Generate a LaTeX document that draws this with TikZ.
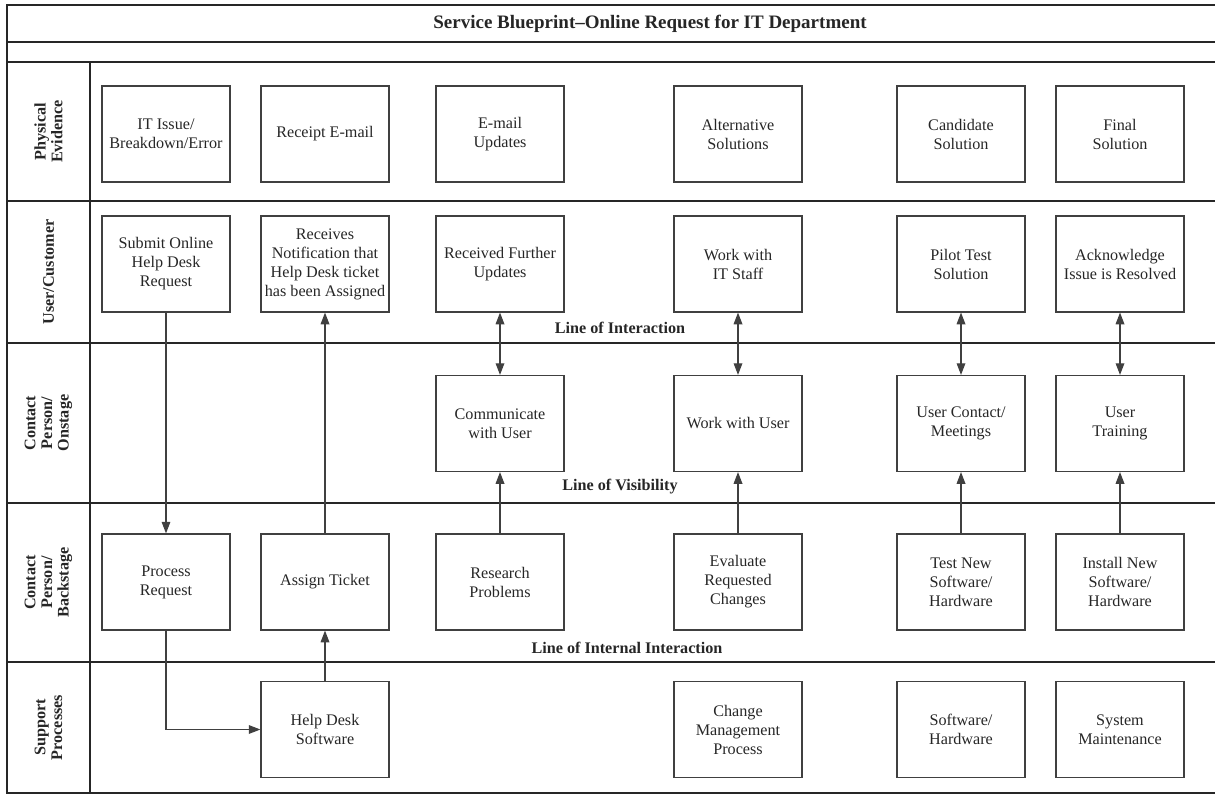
\documentclass[tikz,border=0pt]{standalone}
\usepackage{fontspec}
\setmainfont{Liberation Serif}
\usetikzlibrary{arrows.meta, positioning}
\tikzset{
>={Triangle[length=7pt, width=5.2pt]}, % solid heads on every flow arrow
every node/.style={font=\fontsize{9.7}{11.4}\selectfont, text=black!85}, % plain box text
box/.style={draw=black!75, line width=0.7pt, minimum width=76.8pt, minimum height=57.6pt, inner sep=1pt, align=center}, % one activity
lane/.style={rotate=90, align=center, font=\fontsize{9.7}{10}\selectfont\bfseries}, % swimlane names, read bottom to top
tag/.style={font=\fontsize{9.7}{11.4}\selectfont\bfseries}, % names of the dividing lines
rule/.style={line width=1.1pt, black!85}, % frame and lane dividers
flow/.style={line width=0.7pt, black!75}, % connectors between activities
}

\begin{document}
\begin{tikzpicture}[x=0.6pt, y=-0.6pt]
    \useasboundingbox (0,0) rectangle (1215,795);

    % frame and lanes
    \draw[rule] (1215,5) -- (7,5) -- (7,793) -- (1215,793);
    \foreach \y in {42,62,201,343,503,662}
        \draw[rule] (7,\y) -- (1215,\y);
    \draw[rule] (90,62) -- (90,793);

    \node[font=\fontsize{11.4}{13}\selectfont\bfseries] (title) at (650,23.5) {Service Blueprint--Online Request for IT Department};

    \node[lane] (lpe) at (48.5,131.5) {Physical\\Evidence};
    \node[lane] (luc) at (48.5,272) {User/Customer};
    \node[lane] (lon) at (48.5,423) {Contact\\Person/\\Onstage};
    \node[lane] (lbk) at (48.5,582.5) {Contact\\Person/\\Backstage};
    \node[lane] (lsu) at (48.5,727.5) {Support\\Processes};

    % physical evidence
    \node[box] (pe1) at (166,134) {IT Issue/\\Breakdown/Error};
    \node[box] (pe2) at (325,134) {Receipt E-mail};
    \node[box] (pe3) at (500,134) {E-mail\\Updates};
    \node[box] (pe4) at (738,134) {Alternative\\Solutions};
    \node[box] (pe5) at (961,134) {Candidate\\Solution};
    \node[box] (pe6) at (1120,134) {Final\\Solution};

    % user / customer
    \node[box] (us1) at (166,264) {Submit Online\\Help Desk\\Request};
    \node[box] (us2) at (325,264) {Receives\\Notification that\\Help Desk ticket\\has been Assigned};
    \node[box] (us3) at (500,264) {Received Further\\Updates};
    \node[box] (us4) at (738,264) {Work with\\IT Staff};
    \node[box] (us5) at (961,264) {Pilot Test\\Solution};
    \node[box] (us6) at (1120,264) {Acknowledge\\Issue is Resolved};
    \node[tag] (loi) at (620,328) {Line of Interaction};

    % onstage
    \node[box] (on3) at (500,423.5) {Communicate\\with User};
    \node[box] (on4) at (738,423.5) {Work with User};
    \node[box] (on5) at (961,423.5) {User Contact/\\Meetings};
    \node[box] (on6) at (1120,423.5) {User\\Training};
    \node[tag] (lov) at (620,487) {Line of Visibility};

    % backstage
    \node[box] (bk1) at (166,582) {Process\\Request};
    \node[box] (bk2) at (325,582) {Assign Ticket};
    \node[box] (bk3) at (500,582) {Research\\Problems};
    \node[box] (bk4) at (738,582) {Evaluate\\Requested\\Changes};
    \node[box] (bk5) at (961,582) {Test New\\Software/\\Hardware};
    \node[box] (bk6) at (1120,582) {Install New\\Software/\\Hardware};
    \node[tag] (lii) at (627,648) {Line of Internal Interaction};

    % support
    \node[box] (su2) at (325,729.5) {Help Desk\\Software};
    \node[box] (su4) at (738,729.5) {Change\\Management\\Process};
    \node[box] (su5) at (961,729.5) {Software/\\Hardware};
    \node[box] (su6) at (1120,729.5) {System\\Maintenance};

    \draw[flow]
        (us1) edge[->] (bk1)
        (bk2) edge[->] (us2)
        (su2) edge[->] (bk2)
        (us3) edge[<->] (on3)
        (us4) edge[<->] (on4)
        (us5) edge[<->] (on5)
        (us6) edge[<->] (on6)
        (bk3) edge[->] (on3)
        (bk4) edge[->] (on4)
        (bk5) edge[->] (on5)
        (bk6) edge[->] (on6)
        ;
    \draw[flow, ->] (bk1) |- (su2);
\end{tikzpicture}
\end{document}
